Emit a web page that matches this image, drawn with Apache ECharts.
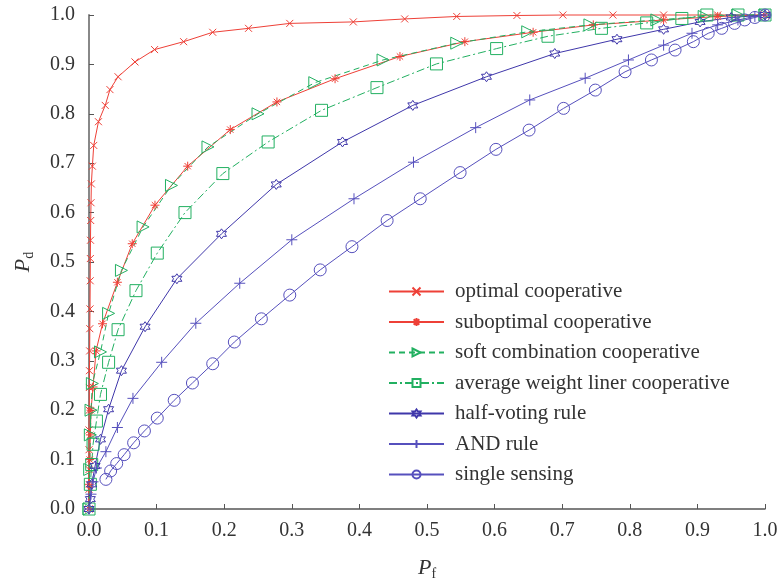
<!DOCTYPE html>
<html>
<head>
<meta charset="utf-8">
<script src="https://cdn.jsdelivr.net/npm/echarts@6/dist/echarts.min.js"></script>
<style>
  html, body { margin: 0; padding: 0; background: #fff; }
  #main { width: 779px; height: 583px; }
</style>
</head>
<body>
<div id="main"></div>
<script>
// ROC curves, [Pf, Pd] pairs
var optimalCoop = [[0,0],[0,0.04],[0,0.08],[0,0.12],[0,0.16],[0.0003,0.2],[0.0005,0.246],[0.0007,0.28],[0.001,0.32],[0.0012,0.365],[0.0015,0.405],[0.0018,0.462],[0.002,0.507],[0.0022,0.544],[0.0025,0.584],[0.003,0.62],[0.0035,0.658],[0.005,0.694],[0.007,0.736],[0.014,0.784],[0.024,0.817],[0.031,0.849],[0.043,0.875],[0.068,0.905],[0.097,0.93],[0.14,0.946],[0.183,0.965],[0.236,0.973],[0.297,0.983],[0.391,0.986],[0.467,0.992],[0.544,0.997],[0.633,0.999],[0.701,1.0],[0.775,1.0],[0.85,1.0],[0.93,1.0],[1,1]];
var suboptimalCoop = [[0,0],[0,0.05],[0.001,0.1],[0.002,0.15],[0.003,0.2],[0.006,0.247],[0.0104,0.32],[0.02,0.375],[0.042,0.459],[0.064,0.537],[0.0976,0.615],[0.146,0.694],[0.209,0.768],[0.278,0.824],[0.364,0.871],[0.46,0.916],[0.556,0.946],[0.657,0.965],[0.746,0.98],[0.85,0.99],[0.93,0.997],[1,1]];
var softComb = [[0,0],[0.001,0.08],[0.002,0.15],[0.003,0.2],[0.005,0.254],[0.017,0.318],[0.029,0.396],[0.048,0.483],[0.08,0.571],[0.122,0.655],[0.176,0.733],[0.25,0.8],[0.334,0.863],[0.435,0.909],[0.544,0.943],[0.649,0.966],[0.741,0.98],[0.84,0.99],[0.91,0.997],[0.96,1],[1,1]];
var avgWeight = [[0,0],[0.002,0.05],[0.004,0.09],[0.006,0.131],[0.011,0.178],[0.017,0.232],[0.029,0.297],[0.043,0.363],[0.0695,0.442],[0.101,0.518],[0.142,0.6],[0.198,0.679],[0.265,0.743],[0.344,0.807],[0.426,0.853],[0.514,0.901],[0.603,0.932],[0.679,0.957],[0.758,0.973],[0.825,0.984],[0.877,0.993],[0.914,1.0],[0.96,1.0],[1,1]];
var halfVoting = [[0,0],[0.002,0.02],[0.004,0.05],[0.009,0.087],[0.017,0.141],[0.029,0.202],[0.048,0.28],[0.083,0.369],[0.13,0.466],[0.196,0.557],[0.277,0.657],[0.375,0.743],[0.479,0.817],[0.588,0.875],[0.689,0.922],[0.781,0.951],[0.85,0.971],[0.904,0.986],[0.95,0.995],[1,1]];
var andRule = [[0,0],[0.003,0.03],[0.006,0.055],[0.011,0.083],[0.025,0.116],[0.042,0.165],[0.065,0.224],[0.1075,0.297],[0.158,0.376],[0.223,0.457],[0.30,0.545],[0.392,0.628],[0.48,0.702],[0.572,0.772],[0.652,0.828],[0.734,0.872],[0.798,0.909],[0.85,0.939],[0.892,0.963],[0.93,0.98],[0.96,0.99],[0.985,0.997],[1,1]];
var singleSensing = [[0.025,0.06],[0.032,0.077],[0.041,0.092],[0.052,0.11],[0.066,0.134],[0.082,0.158],[0.101,0.184],[0.126,0.22],[0.153,0.255],[0.183,0.294],[0.215,0.338],[0.255,0.385],[0.297,0.433],[0.342,0.484],[0.389,0.531],[0.441,0.584],[0.49,0.628],[0.549,0.681],[0.602,0.728],[0.651,0.767],[0.702,0.811],[0.749,0.848],[0.793,0.885],[0.832,0.909],[0.867,0.929],[0.894,0.946],[0.916,0.963],[0.936,0.973],[0.955,0.983],[0.97,0.99],[0.985,0.995],[1,1]];

var names = ['optimal cooperative','suboptimal cooperative','soft combination cooperative','average weight liner cooperative','half-voting rule','AND rule','single sensing'];

var RED = '#ee4037', GREEN = '#22b061', BLUE = '#3f37aa', BLUE2 = '#5650bd';
var FONT = '"Liberation Serif", "Times New Roman", serif';

// marker shapes
var SYM_X = 'path://M0,0L10,10M10,0L0,10';
var SYM_AST = 'path://M5,0L5,10M0,5L10,5M1.5,1.5L8.5,8.5M8.5,1.5L1.5,8.5';
var SYM_TRI = 'path://M0,0L10,5L0,10Z';
var SYM_STAR = 'path://M5,0L6.5,2.5L9.3,2.5L7.9,5L9.3,7.5L6.5,7.5L5,10L3.5,7.5L0.7,7.5L2.1,5L0.7,2.5L3.5,2.5Z';
var SYM_PLUS = 'path://M5,0L5,10M0,5L10,5';

function mk(name, data, color, symbol, size, dash) {
  return {
    name: name,
    type: 'line',
    data: data,
    clip: false,
    symbol: symbol,
    symbolSize: size,
    showAllSymbol: true,
    lineStyle: { color: color, width: 1, type: dash || 'solid' },
    itemStyle: { color: 'rgba(0,0,0,0)', borderColor: color, borderWidth: 1 },
    emphasis: { disabled: true },
    z: 2
  };
}

var chart = echarts.init(document.getElementById('main'));
chart.setOption({
  animation: false,
  backgroundColor: '#fff',
  grid: { left: 89, right: 14, top: 15, bottom: 74, containLabel: false, outerBoundsMode: 'none' },
  legend: {
    orient: 'vertical',
    left: 383,
    top: 276,
    itemWidth: 55,
    itemHeight: 10,
    itemGap: 9.5,
    textStyle: { fontFamily: FONT, fontSize: 21, color: '#333', padding: [0, 0, 0, 6] },
    data: names
  },
  xAxis: {
    type: 'value',
    min: 0, max: 1, interval: 0.1,
    name: '{p|P}{s|f}',
    nameLocation: 'middle',
    nameGap: 46,
    nameTextStyle: {
      rich: {
        p: { fontFamily: FONT, fontStyle: 'italic', fontSize: 22, color: '#333' },
        s: { fontFamily: FONT, fontSize: 14, color: '#333', verticalAlign: 'bottom', padding: [12, 0, 0, 0] }
      }
    },
    axisLine: { lineStyle: { color: '#555', width: 1.5 } },
    axisTick: { inside: true, length: 5, lineStyle: { color: '#555' } },
    axisLabel: { fontFamily: FONT, fontSize: 20, color: '#333', margin: 12, formatter: function (v) { return v.toFixed(1); } },
    splitLine: { show: false }
  },
  yAxis: {
    type: 'value',
    min: 0, max: 1, interval: 0.1,
    name: '{p|P}{s|d}',
    nameLocation: 'middle',
    nameGap: 53,
    nameTextStyle: {
      rich: {
        p: { fontFamily: FONT, fontStyle: 'italic', fontSize: 22, color: '#333' },
        s: { fontFamily: FONT, fontSize: 14, color: '#333', verticalAlign: 'bottom', padding: [12, 0, 0, 0] }
      }
    },
    axisLine: { show: true, lineStyle: { color: '#888', width: 2 } },
    axisTick: { show: true, inside: true, length: 5, lineStyle: { color: '#555' } },
    axisLabel: { fontFamily: FONT, fontSize: 20, color: '#333', margin: 14, padding: [5, 0, 0, 0], formatter: function (v) { return v.toFixed(1); } },
    splitLine: { show: false }
  },
  series: [
    mk(names[0], optimalCoop, RED, SYM_X, 7),
    mk(names[1], suboptimalCoop, RED, SYM_AST, 9),
    mk(names[2], softComb, GREEN, SYM_TRI, 12, [6, 4]),
    mk(names[3], avgWeight, GREEN, 'rect', 12, [8, 3, 2, 3]),
    mk(names[4], halfVoting, BLUE, SYM_STAR, 10),
    mk(names[5], andRule, BLUE2, SYM_PLUS, 11),
    mk(names[6], singleSensing, BLUE2, 'circle', 12)
  ]
});
</script>
</body>
</html>
